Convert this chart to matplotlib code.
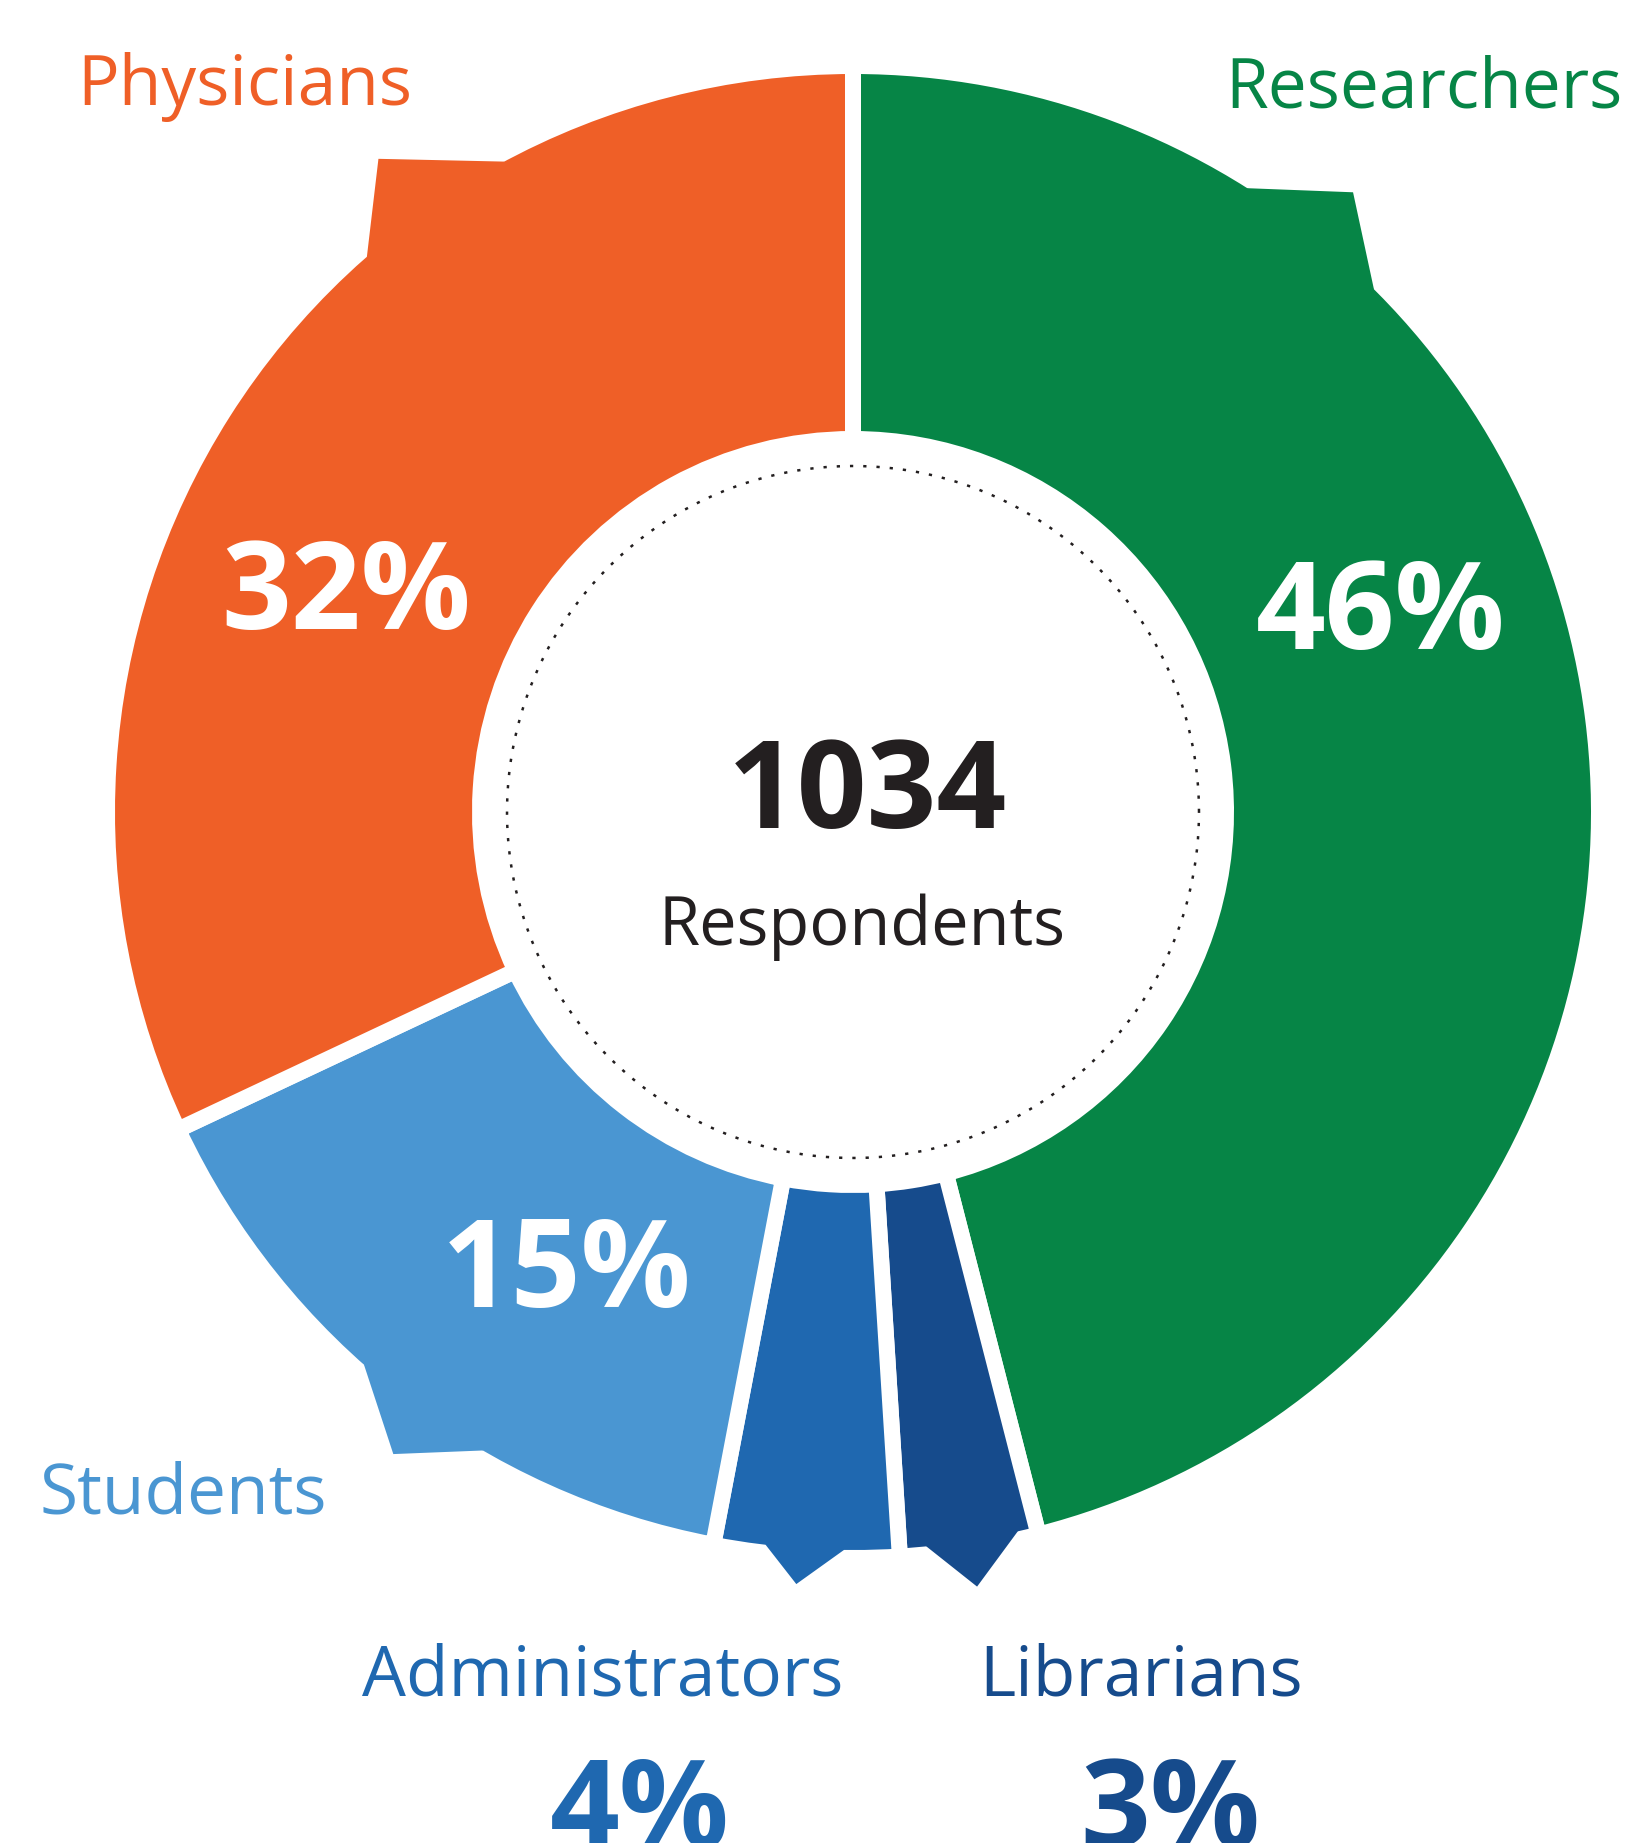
import numpy as np
import matplotlib.pyplot as plt

plt.rcParams["font.family"] = ["Open Sans", "DejaVu Sans"]

# Survey composition (clockwise from 12 o'clock)
groups = ["Researchers", "Librarians", "Administrators", "Students", "Physicians"]
shares = [46, 3, 4, 15, 32]
colors = ["#068546", "#164B8C", "#1F68B0", "#4A96D2", "#EF5F27"]
total_respondents = 1034
center_caption = "Respondents"

W, H = 1627, 1843
cx, cy = 853, H - 812
R_out, R_in = 738, 381
gap = 16  # white gap between segments, px


def pt(angle, r):
    a = np.deg2rad(angle)
    return cx + r * np.cos(a), cy + r * np.sin(a)


fig = plt.figure(figsize=(W / 100, H / 100), dpi=100)
ax = fig.add_axes([0, 0, 1, 1])

lw = gap * 72 / 100
wedges, _ = ax.pie(
    shares,
    colors=colors,
    startangle=90,
    counterclock=False,
    center=(cx, cy),
    radius=R_out + gap / 2,
    wedgeprops=dict(width=R_out - R_in + gap, edgecolor="white", linewidth=lw),
    frame=True,
)
ax.set_xlim(0, W)
ax.set_ylim(0, H)
ax.axis("off")

# pointer tabs on the outer rim: (start angle, tip angle, end angle, tip radius factor)
tabs = {
    "Researchers": (57.7, 51.1, 45.1, 1.079),
    "Librarians": (275.7, 279.1, 282.9, 1.063),
    "Administrators": (263.2, 265.8, 269.3, 1.049),
    "Students": (228.5, 234.4, 239.9, 1.07),
    "Physicians": (118.2, 126.0, 131.2, 1.094),
}
for g, c in zip(groups, colors):
    a0, at, a1, s = tabs[g]
    poly = [pt(a0, R_out - 25), pt(a0, R_out), pt(at, R_out * s), pt(a1, R_out), pt(a1, R_out - 25)]
    ax.add_patch(plt.Polygon(poly, closed=True, facecolor=c, edgecolor="none", zorder=3))

# dotted inner ring
th = np.linspace(0, 2 * np.pi, 400)
ax.plot(cx + 346 * np.cos(th), cy + 346 * np.sin(th), color="#231F20",
        linestyle=(0, (1.3, 4.0)), linewidth=1.8, zorder=4)

# centre text
ax.text(867, H - 828, f"{total_respondents}", ha="center", va="baseline",
        fontsize=88, fontweight="bold", color="#231F20", zorder=5)
ax.text(862, H - 945, center_caption, ha="center", va="baseline",
        fontsize=48, color="#231F20", zorder=5)

# in-ring percentages
inner_pct = {"Physicians": (346, 629), "Researchers": (1381, 649), "Students": (567, 1307)}
for g, (x, y) in inner_pct.items():
    ax.text(x, H - y, f"{shares[groups.index(g)]}%", ha="center", va="baseline",
            fontsize=88, fontweight="bold", color="white", zorder=5)

# category names
name_pos = {
    "Physicians": (245, 105),
    "Researchers": (1424, 108),
    "Students": (183, 1513),
    "Administrators": (603, 1695),
    "Librarians": (1141, 1695),
}
for g, (x, y) in name_pos.items():
    ax.text(x, H - y, g, ha="center", va="baseline", fontsize=50,
            color=colors[groups.index(g)], zorder=5)

# small-share percentages below the chart (cut by the canvas edge, as in the original)
outer_pct = {"Administrators": (640, 1847), "Librarians": (1170, 1847)}
for g, (x, y) in outer_pct.items():
    ax.text(x, H - y, f"{shares[groups.index(g)]}%", ha="center", va="baseline",
            fontsize=88, fontweight="bold", color=colors[groups.index(g)], zorder=5)

fig.savefig("out.png", dpi=100, facecolor="white")
